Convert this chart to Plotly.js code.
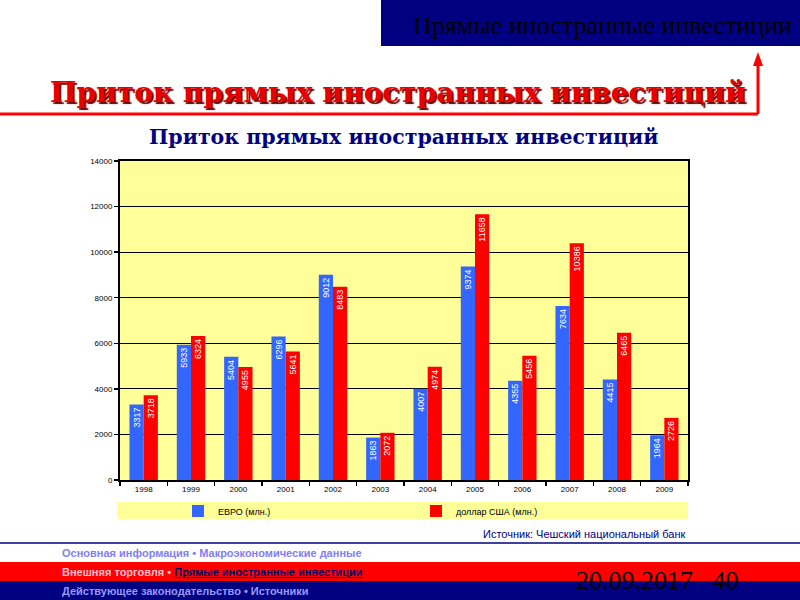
<!DOCTYPE html>
<html><head><meta charset="utf-8">
<script src="https://cdn.plot.ly/plotly-3.0.1.min.js"></script>
<style>html,body{margin:0;padding:0;background:#fff;}#chart{width:800px;height:600px;}</style>
</head><body><div id="chart"></div>
<script>
const years = ['1998','1999','2000','2001','2002','2003','2004','2005','2006','2007','2008','2009'];
const euro = [3317, 5933, 5404, 6296, 9012, 1863, 4007, 9374, 4355, 7634, 4415, 1964];
const usd  = [3718, 6324, 4955, 5641, 8483, 2072, 4974, 11658, 5456, 10386, 6465, 2726];
const seriesNames = ['ЕВРО (млн.)', 'доллар США (млн.)'];
const yTicks = [0, 2000, 4000, 6000, 8000, 10000, 12000, 14000];

const L = 120, R = 688, T = 161, B = 480;
const px = x => (x - L) / (R - L);
const py = y => (B - y) / (B - T);

const lab = {type:'bar', textposition:'inside', textangle:-90, insidetextanchor:'end',
  constraintext:'none', cliponaxis:false,
  textfont:{family:'Liberation Sans Narrow, Arial', size:9, color:'#ffffff'}};

const traces = [
  Object.assign({}, lab, {x: years, y: euro, name: seriesNames[0], text: euro.map(String),
    marker:{color:'#3366ff'}}),
  Object.assign({}, lab, {x: years, y: usd, name: seriesNames[1], text: usd.map(String),
    marker:{color:'#ff0000'}})
];

const shapes = [
  {type:'rect', xref:'paper', yref:'paper', x0:px(381), x1:px(800), y0:py(0), y1:py(46), fillcolor:'#000080', line:{width:0}},
  {type:'line', xref:'paper', yref:'paper', x0:px(0), x1:px(758), y0:py(114), y1:py(114), line:{color:'#ff0000', width:3}},
  {type:'line', xref:'paper', yref:'paper', x0:px(758), x1:px(758), y0:py(114), y1:py(62), line:{color:'#ff0000', width:3}},
  {type:'path', xref:'paper', yref:'paper', path:`M ${px(753)} ${py(66)} L ${px(763)} ${py(66)} L ${px(758)} ${py(52)} Z`, fillcolor:'#ff0000', line:{width:0}},
  {type:'rect', xref:'paper', yref:'paper', x0:px(117), x1:px(688), y0:py(502), y1:py(519), fillcolor:'#ffff99', line:{width:0}, layer:'below'},
  {type:'line', xref:'paper', yref:'paper', x0:px(0), x1:px(800), y0:py(543), y1:py(543), line:{color:'#000080', width:1.5}},
  {type:'rect', xref:'paper', yref:'paper', x0:px(0), x1:px(800), y0:py(562), y1:py(581), fillcolor:'#ff0000', line:{width:0}},
  {type:'rect', xref:'paper', yref:'paper', x0:px(0), x1:px(800), y0:py(581), y1:py(601), fillcolor:'#000080', line:{width:0}},
];

const ann = (x, y, text, font, extra) => Object.assign({xref:'paper', yref:'paper', x:px(x), y:py(y), text, font, showarrow:false}, extra||{});

const annotations = [
  ann(411, 26, 'Прямые иностранные инвестиции', {family:'Liberation Serif', size:26, color:'#000000'}, {xanchor:'left', yanchor:'middle'}),
  ann(398, 92, '<b>Приток прямых иностранных инвестиций</b>', {family:'DejaVu Serif', size:28, color:'#e80000', shadow:'2px 2px 1px #600000'}, {xanchor:'center', yanchor:'middle'}),
  ann(403, 137, '<b>Приток прямых иностранных инвестиций</b>', {family:'DejaVu Serif', size:20.5, color:'#000080'}, {xanchor:'center', yanchor:'middle'}),
  ann(688, 534, 'Источник: Чешский национальный банк', {family:'Liberation Sans Narrow, Arial', size:11, color:'#000080'}, {xanchor:'right', yanchor:'middle'}),
  ann(60, 553, '<b>Основная информация • Макроэкономические данные</b>', {family:'Liberation Sans Narrow, Arial', size:11, color:'#8080f0'}, {xanchor:'left', yanchor:'middle'}),
  ann(60, 572, '<b>Внешняя торговля • <span style="color:#000060"><u>Прямые иностранные инвестиции</u></span></b>', {family:'Liberation Sans Narrow, Arial', size:11, color:'#ffc0d0'}, {xanchor:'left', yanchor:'middle'}),
  ann(60, 591, '<b>Действующее законодательство • Источники</b>', {family:'Liberation Sans Narrow, Arial', size:11, color:'#9999ff'}, {xanchor:'left', yanchor:'middle'}),
  ann(574, 580, '20.09.2017   40', {family:'Liberation Serif', size:26, color:'#000000'}, {xanchor:'left', yanchor:'middle'}),
];

const layout = {
  width:800, height:600,
  margin:{l:L, r:800-R, t:T, b:600-B, pad:0},
  paper_bgcolor:'#ffffff', plot_bgcolor:'#ffff99',
  barmode:'group', bargap:0.4, bargroupgap:0,
  showlegend:true,
  legend:{orientation:'h', x:px(178), y:py(511), xanchor:'left', yanchor:'middle',
    bgcolor:'rgba(0,0,0,0)', entrywidth:193, entrywidthmode:'pixels',
    font:{family:'Liberation Sans Narrow, Arial', size:9, color:'#000000'}, itemwidth:30},
  xaxis:{type:'category', showline:true, linecolor:'#000', linewidth:2, mirror:true,
    ticks:'outside', tickson:'boundaries', ticklen:4, tickcolor:'#000', tickwidth:1.5,
    tickfont:{family:'Arial', size:8, color:'#000'}, showgrid:false, fixedrange:true},
  yaxis:{range:[0,14000], tickvals:yTicks, ticktext:yTicks.map(String),
    showline:true, linecolor:'#000', linewidth:2, mirror:true,
    ticks:'outside', ticklen:4, tickcolor:'#000', tickwidth:1.5,
    showgrid:true, gridcolor:'#000', gridwidth:1, zeroline:false,
    tickfont:{family:'Arial', size:8, color:'#000'}},
  shapes, annotations
};

Plotly.newPlot('chart', traces, layout, {displayModeBar:false, staticPlot:true});
</script></body></html>
